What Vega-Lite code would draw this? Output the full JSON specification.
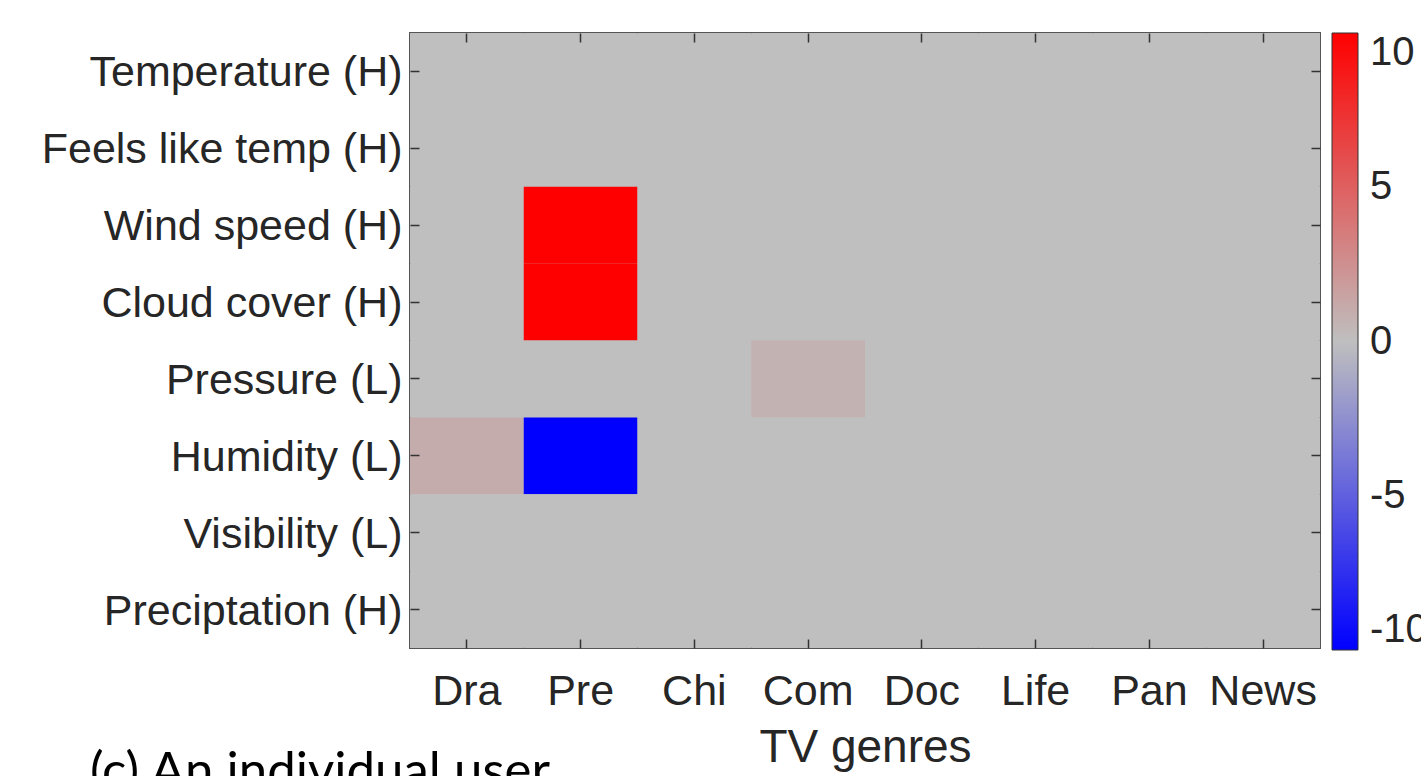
{
  "$schema": "https://vega.github.io/schema/vega-lite/v6.json",
  "width": 910,
  "height": 615,
  "autosize": {"type": "none"},
  "padding": {"left": 410, "top": 33, "right": 101, "bottom": 128},
  "background": "white",
  "config": {
    "view": {"stroke": "#555555", "strokeWidth": 2, "fill": "#bfbfbf"},
    "font": "Liberation Sans",
    "axis": {"domain": false, "grid": false, "labelFont": "Liberation Sans", "titleFont": "Liberation Sans", "labelColor": "#262626", "titleColor": "#262626", "tickColor": "#333333", "tickWidth": 1.5, "tickSize": -9, "labelLimit": 0}
  },
  "title": {
    "text": "(c) An individual user",
    "orient": "bottom",
    "anchor": "start",
    "frame": "group",
    "dx": -320,
    "offset": -22,
    "font": "Lato",
    "fontSize": 51,
    "fontWeight": "normal",
    "color": "#000000",
    "baseline": "top"
  },
  "data": {
    "values": [
      {"genre": "Dra", "weather": "Temperature (H)", "value": 0},
      {"genre": "Dra", "weather": "Feels like temp (H)", "value": 0},
      {"genre": "Dra", "weather": "Wind speed (H)", "value": 0},
      {"genre": "Dra", "weather": "Cloud cover (H)", "value": 0},
      {"genre": "Dra", "weather": "Pressure (L)", "value": 0},
      {"genre": "Dra", "weather": "Humidity (L)", "value": 1.0},
      {"genre": "Dra", "weather": "Visibility (L)", "value": 0},
      {"genre": "Dra", "weather": "Preciptation (H)", "value": 0},
      {"genre": "Pre", "weather": "Temperature (H)", "value": 0},
      {"genre": "Pre", "weather": "Feels like temp (H)", "value": 0},
      {"genre": "Pre", "weather": "Wind speed (H)", "value": 10},
      {"genre": "Pre", "weather": "Cloud cover (H)", "value": 10},
      {"genre": "Pre", "weather": "Pressure (L)", "value": 0},
      {"genre": "Pre", "weather": "Humidity (L)", "value": -10},
      {"genre": "Pre", "weather": "Visibility (L)", "value": 0},
      {"genre": "Pre", "weather": "Preciptation (H)", "value": 0},
      {"genre": "Chi", "weather": "Temperature (H)", "value": 0},
      {"genre": "Chi", "weather": "Feels like temp (H)", "value": 0},
      {"genre": "Chi", "weather": "Wind speed (H)", "value": 0},
      {"genre": "Chi", "weather": "Cloud cover (H)", "value": 0},
      {"genre": "Chi", "weather": "Pressure (L)", "value": 0},
      {"genre": "Chi", "weather": "Humidity (L)", "value": 0},
      {"genre": "Chi", "weather": "Visibility (L)", "value": 0},
      {"genre": "Chi", "weather": "Preciptation (H)", "value": 0},
      {"genre": "Com", "weather": "Temperature (H)", "value": 0},
      {"genre": "Com", "weather": "Feels like temp (H)", "value": 0},
      {"genre": "Com", "weather": "Wind speed (H)", "value": 0},
      {"genre": "Com", "weather": "Cloud cover (H)", "value": 0},
      {"genre": "Com", "weather": "Pressure (L)", "value": 0.7},
      {"genre": "Com", "weather": "Humidity (L)", "value": 0},
      {"genre": "Com", "weather": "Visibility (L)", "value": 0},
      {"genre": "Com", "weather": "Preciptation (H)", "value": 0},
      {"genre": "Doc", "weather": "Temperature (H)", "value": 0},
      {"genre": "Doc", "weather": "Feels like temp (H)", "value": 0},
      {"genre": "Doc", "weather": "Wind speed (H)", "value": 0},
      {"genre": "Doc", "weather": "Cloud cover (H)", "value": 0},
      {"genre": "Doc", "weather": "Pressure (L)", "value": 0},
      {"genre": "Doc", "weather": "Humidity (L)", "value": 0},
      {"genre": "Doc", "weather": "Visibility (L)", "value": 0},
      {"genre": "Doc", "weather": "Preciptation (H)", "value": 0},
      {"genre": "Life", "weather": "Temperature (H)", "value": 0},
      {"genre": "Life", "weather": "Feels like temp (H)", "value": 0},
      {"genre": "Life", "weather": "Wind speed (H)", "value": 0},
      {"genre": "Life", "weather": "Cloud cover (H)", "value": 0},
      {"genre": "Life", "weather": "Pressure (L)", "value": 0},
      {"genre": "Life", "weather": "Humidity (L)", "value": 0},
      {"genre": "Life", "weather": "Visibility (L)", "value": 0},
      {"genre": "Life", "weather": "Preciptation (H)", "value": 0},
      {"genre": "Pan", "weather": "Temperature (H)", "value": 0},
      {"genre": "Pan", "weather": "Feels like temp (H)", "value": 0},
      {"genre": "Pan", "weather": "Wind speed (H)", "value": 0},
      {"genre": "Pan", "weather": "Cloud cover (H)", "value": 0},
      {"genre": "Pan", "weather": "Pressure (L)", "value": 0},
      {"genre": "Pan", "weather": "Humidity (L)", "value": 0},
      {"genre": "Pan", "weather": "Visibility (L)", "value": 0},
      {"genre": "Pan", "weather": "Preciptation (H)", "value": 0},
      {"genre": "News", "weather": "Temperature (H)", "value": 0},
      {"genre": "News", "weather": "Feels like temp (H)", "value": 0},
      {"genre": "News", "weather": "Wind speed (H)", "value": 0},
      {"genre": "News", "weather": "Cloud cover (H)", "value": 0},
      {"genre": "News", "weather": "Pressure (L)", "value": 0},
      {"genre": "News", "weather": "Humidity (L)", "value": 0},
      {"genre": "News", "weather": "Visibility (L)", "value": 0},
      {"genre": "News", "weather": "Preciptation (H)", "value": 0}
    ]
  },
  "layer": [
    {
      "mark": {"type": "rect"},
      "encoding": {
        "x": {
          "field": "genre", "type": "nominal",
          "sort": ["Dra", "Pre", "Chi", "Com", "Doc", "Life", "Pan", "News"],
          "scale": {"paddingInner": 0, "paddingOuter": 0},
          "axis": {"orient": "bottom", "title": "TV genres", "labelAngle": 0, "labelFontSize": 43, "labelPadding": 31, "titleFontSize": 46, "titleFontWeight": "normal", "titlePadding": 12}
        },
        "y": {
          "field": "weather", "type": "nominal",
          "sort": ["Temperature (H)", "Feels like temp (H)", "Wind speed (H)", "Cloud cover (H)", "Pressure (L)", "Humidity (L)", "Visibility (L)", "Preciptation (H)"],
          "scale": {"paddingInner": 0, "paddingOuter": 0},
          "axis": {"orient": "left", "title": null, "labelFontSize": 43, "labelPadding": 17, "labelBaseline": "middle", "labelOffset": 2}
        },
        "color": {
          "field": "value", "type": "quantitative",
          "scale": {"domain": [-10, 0, 10], "range": ["#0000ff", "#bfbfbf", "#ff0000"], "interpolate": "rgb"},
          "legend": {
            "orient": "none", "legendX": 922, "legendY": 0,
            "title": null, "padding": 0,
            "direction": "vertical",
            "gradientLength": 617, "gradientThickness": 26,
            "gradientStrokeColor": "#333333", "gradientStrokeWidth": 1,
            "values": [-10, -5, 0, 5, 10],
            "labelExpr": "datum.value < 0 ? '-' + abs(datum.value) : '' + datum.value",
            "labelFontSize": 40, "labelColor": "#262626", "labelFont": "Liberation Sans",
            "labelOffset": 12, "labelBaseline": "middle", "labelOverlap": false
          }
        }
      }
    },
    {
      "mark": {"type": "rect", "opacity": 0},
      "encoding": {
        "x": {
          "field": "genre", "type": "nominal",
          "sort": ["Dra", "Pre", "Chi", "Com", "Doc", "Life", "Pan", "News"],
          "axis": {"orient": "top", "title": null, "labels": false}
        },
        "y": {
          "field": "weather", "type": "nominal",
          "sort": ["Temperature (H)", "Feels like temp (H)", "Wind speed (H)", "Cloud cover (H)", "Pressure (L)", "Humidity (L)", "Visibility (L)", "Preciptation (H)"],
          "axis": {"orient": "right", "title": null, "labels": false}
        }
      }
    }
  ],
  "resolve": {"axis": {"x": "independent", "y": "independent"}}
}
